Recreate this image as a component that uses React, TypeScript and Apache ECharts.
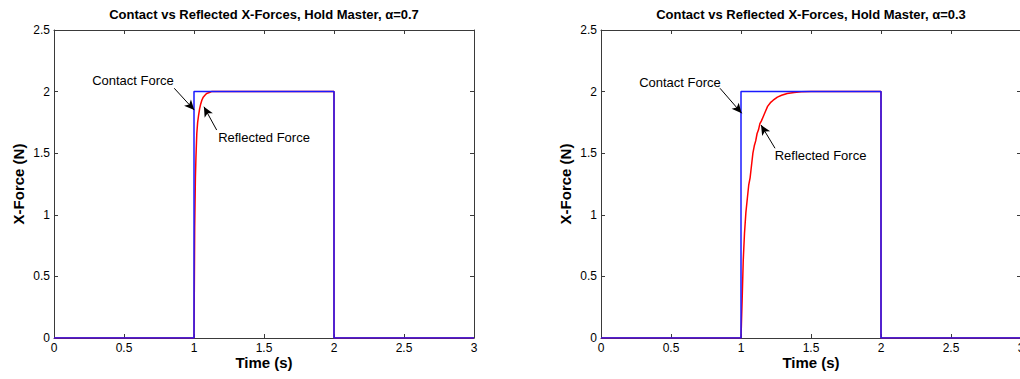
import React, { useEffect, useRef } from "react";
import * as echarts from "echarts";

const titles = [
  "Contact vs Reflected X-Forces, Hold Master, α=0.7",
  "Contact vs Reflected X-Forces, Hold Master, α=0.3",
];
const xTicks = [0, 0.5, 1, 1.5, 2, 2.5, 3];

// Contact force (step)
const contactT = [0, 1.0, 1.0, 2.0, 2.0, 3.0];
const contactF = [0, 0, 2, 2, 0, 0];

// Reflected force, alpha = 0.7
const refl07T = [0, 1.0, 1.005, 1.01, 1.014, 1.02, 1.026, 1.033, 1.04, 1.048, 1.056, 1.066, 1.078, 1.09, 1.105, 1.125, 2.0, 2.0, 3.0];
const refl07F = [0, 0, 0.9, 1.3, 1.47, 1.66, 1.75, 1.81, 1.86, 1.9, 1.93, 1.955, 1.97, 1.985, 1.99, 2.0, 2.0, 0, 0];

// Reflected force, alpha = 0.3
const refl03T = [0, 1.0, 1.008, 1.016, 1.025, 1.035, 1.045, 1.055, 1.065, 1.075, 1.085, 1.095, 1.105, 1.115, 1.125, 1.135, 1.145, 1.16, 1.175, 1.19, 1.21, 1.23, 1.26, 1.29, 1.33, 1.38, 1.43, 1.5, 2.0, 2.0, 3.0];
const refl03F = [0, 0, 0.3, 0.63, 0.85, 1.02, 1.13, 1.24, 1.3, 1.4, 1.5, 1.56, 1.6, 1.66, 1.69, 1.74, 1.76, 1.8, 1.84, 1.88, 1.91, 1.93, 1.955, 1.97, 1.985, 1.993, 1.998, 2.0, 2.0, 0, 0];

// Annotations: text position [t, F], arrow [fromT, fromF, toT, toF]
const contactLabel07 = { text: "Contact Force", at: [0.564, 2.094], arrow: [0.859, 2.027, 1.002, 1.85] };
const reflLabel07 = { text: "Reflected Force", at: [1.5, 1.63], arrow: [1.162, 1.688, 1.071, 1.877] };
const contactLabel03 = { text: "Contact Force", at: [0.564, 2.07], arrow: [0.85, 2.027, 1.005, 1.824] };
const reflLabel03 = { text: "Reflected Force", at: [1.568, 1.485], arrow: [1.243, 1.54, 1.143, 1.729] };

const FONT = "'Liberation Sans', Arial, Helvetica, sans-serif";
const AXIS_COLOR = "#3a3a3a";

function pairs(t: number[], v: number[]) {
  return t.map((x, i) => [x, v[i]]);
}

export default function App() {
  const ref = useRef<HTMLDivElement>(null);
  useEffect(() => {
    document.body.style.margin = "0";
    document.body.style.overflow = "hidden";
    if (!ref.current) return;
    const chart = echarts.init(ref.current, null, { renderer: "svg" });

    const grids = [
      { left: 54, top: 30, width: 420, height: 308 },
      { left: 601, top: 30, width: 420, height: 308 },
    ];

    const xAxes: any[] = [];
    const yAxes: any[] = [];
    grids.forEach((_, gi) => {
      const base = {
        gridIndex: gi,
        type: "value",
        min: 0,
        max: 3,
        interval: 0.5,
        splitLine: { show: false },
        axisLine: { show: true, onZero: false, lineStyle: { color: AXIS_COLOR, width: 1 } },
        axisTick: { show: true, inside: true, length: 4, lineStyle: { color: AXIS_COLOR } },
      };
      xAxes.push({
        ...base,
        position: "bottom",
        name: "Time (s)",
        nameLocation: "middle",
        nameGap: 17,
        nameMoveOverlap: false,
        nameTextStyle: { fontFamily: FONT, fontSize: 15, fontWeight: "bold", color: "#000", verticalAlign: "top" },
        axisLabel: { show: true, fontFamily: FONT, fontSize: 12, color: "#000", margin: 4, formatter: (v: number) => (xTicks.includes(v) ? String(v) : "") },
      });
      xAxes.push({ ...base, position: "top", axisLabel: { show: false } });
      const ybase = {
        gridIndex: gi,
        type: "value",
        min: 0,
        max: 2.5,
        interval: 0.5,
        splitLine: { show: false },
        axisLine: { show: true, onZero: false, lineStyle: { color: AXIS_COLOR, width: 1 } },
        axisTick: { show: true, inside: true, length: 4, lineStyle: { color: AXIS_COLOR } },
      };
      yAxes.push({
        ...ybase,
        position: "left",
        name: "X-Force (N)",
        nameLocation: "middle",
        nameGap: 28,
        nameMoveOverlap: false,
        nameTextStyle: { fontFamily: FONT, fontSize: 15, fontWeight: "bold", color: "#000" },
        axisLabel: { show: true, fontFamily: FONT, fontSize: 12, color: "#000", margin: 4 },
      });
      yAxes.push({ ...ybase, position: "right", axisLabel: { show: false } });
    });

    const annot = (labels: any[]) => ({
      markLine: {
        silent: true,
        symbol: ["none", "arrow"],
        symbolSize: [7, 10],
        label: { show: false },
        lineStyle: { color: "#000", width: 1, type: "solid" },
        data: labels.map((l) => [
          { coord: [l.arrow[0], l.arrow[1]] },
          { coord: [l.arrow[2], l.arrow[3]] },
        ]),
      },
      markPoint: {
        silent: true,
        symbol: "circle",
        symbolSize: 0,
        data: labels.map((l) => ({
          coord: l.at,
          label: {
            show: true,
            position: "inside",
            formatter: l.text,
            fontFamily: FONT,
            fontSize: 13,
            color: "#000",
          },
        })),
      },
    });

    const redSeries = (gi: number, t: number[], v: number[], labels: any[]) => ({
      type: "line",
      xAxisIndex: gi * 2,
      yAxisIndex: gi * 2,
      data: pairs(t, v),
      showSymbol: false,
      symbol: "none",
      lineStyle: { color: "#ff0000", width: 1.5 },
      z: 2,
      ...annot(labels),
    });
    const blueSeries = (gi: number) => ({
      type: "line",
      xAxisIndex: gi * 2,
      yAxisIndex: gi * 2,
      data: pairs(contactT, contactF),
      showSymbol: false,
      symbol: "none",
      lineStyle: { color: "#1a1aff", width: 1.5 },
      z: 3,
    });

    chart.setOption({
      animation: false,
      backgroundColor: "#fff",
      grid: grids,
      xAxis: xAxes,
      yAxis: yAxes,
      graphic: titles.map((t, i) => ({
        type: "text",
        x: grids[i].left + 210,
        y: 14,
        style: { text: t, align: "center", verticalAlign: "middle", font: `bold 13px ${FONT}`, fill: "#000" },
      })),
      series: [
        redSeries(0, refl07T, refl07F, [contactLabel07, reflLabel07]),
        blueSeries(0),
        redSeries(1, refl03T, refl03F, [contactLabel03, reflLabel03]),
        blueSeries(1),
      ],
    });
    return () => chart.dispose();
  }, []);
  return (
    <div style={{ width: 1020, height: 379, overflow: "hidden" }}>
      <div ref={ref} style={{ width: 1030, height: 379 }} />
    </div>
  );
}
